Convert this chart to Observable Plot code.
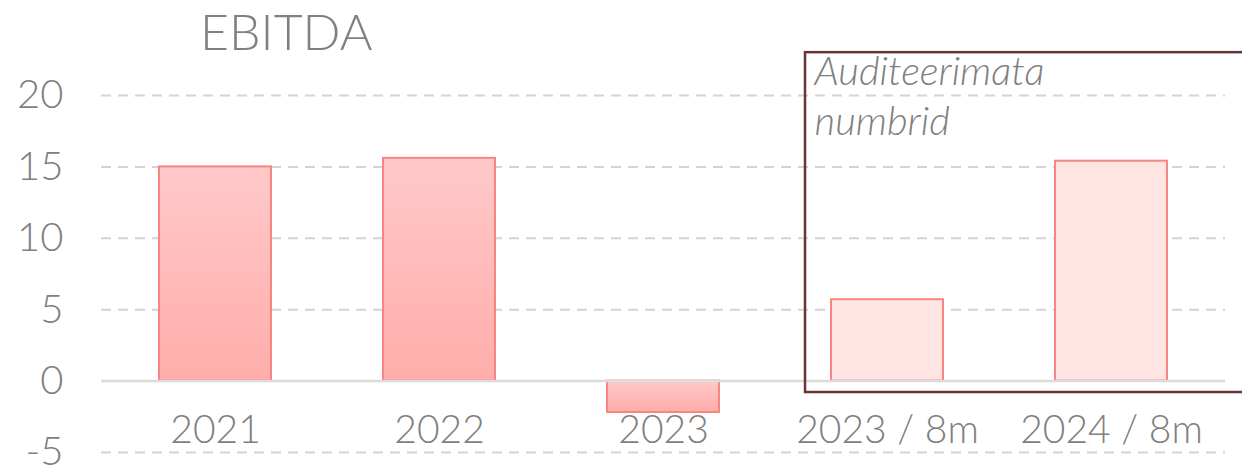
<!DOCTYPE html>
<html>
<head>
<meta charset="utf-8">
<script src="https://cdn.jsdelivr.net/npm/d3@7"></script>
<script src="https://cdn.jsdelivr.net/npm/@observablehq/plot@0.6"></script>
<style>
  html, body { margin: 0; padding: 0; background: #fff; }
  #wrap { width: 1242px; height: 469px; overflow: hidden; font-family: Lato, sans-serif; font-weight: 300; }
  #title { height: 60px; box-sizing: border-box; padding-left: 200px; padding-top: 5px; font-size: 50px; line-height: 52px; color: #808080; font-weight: 300; }
  svg { overflow: visible; }
</style>
</head>
<body>
<div id="wrap">
  <div id="title">EBITDA</div>
  <div id="chart"></div>
</div>
<script>
const categories = ["2021", "2022", "2023", "2023 / 8m", "2024 / 8m"];
const values = [15.0, 15.6, -2.2, 5.7, 15.4];
const audited = [true, true, true, false, false];
const yTicks = [-5, 0, 5, 10, 15, 20];
const gridTicks = [-5, 5, 10, 15, 20];
const noteText = "Auditeerimata\nnumbrid";
const boxFirstCategory = "2023 / 8m";
const boxTop = 23.0;
const boxBottom = -0.8;
const noteTop = 23.25;

const data = categories.map((c, i) => ({category: c, value: values[i], audited: audited[i]}));

function boxMark(index, scales, vals, dimensions) {
  const x = scales.x, y = scales.y;
  const step = x(categories[4]) - x(categories[3]);
  const x0 = x(boxFirstCategory) - step * 0.116;
  const g = d3.create("svg:g");
  g.append("rect")
    .attr("x", x0)
    .attr("y", y(boxTop))
    .attr("width", dimensions.width + 20 - x0)
    .attr("height", y(boxBottom) - y(boxTop))
    .attr("fill", "none")
    .attr("stroke", "#6b3333")
    .attr("stroke-width", 2.5);
  return g.node();
}

const chart = Plot.plot({
  width: 1242,
  height: 409,
  marginLeft: 101,
  marginRight: 17,
  marginTop: 35,
  marginBottom: 17,
  style: {fontFamily: "Lato, sans-serif", fontWeight: 300, color: "#808080", overflow: "visible"},
  x: {domain: categories, paddingInner: 0.5, paddingOuter: 0.25, label: null},
  y: {domain: [-5, 20], label: null},
  marks: [
    Plot.gridY(gridTicks, {stroke: "#d4d4d4", strokeOpacity: 1, strokeWidth: 2, strokeDasharray: "10,7"}),
    Plot.barY(data, {
      x: "category", y: "value",
      fill: d => d.audited ? "url(#barGrad)" : "#fee5e3",
      stroke: "#f6867f", strokeWidth: 2
    }),
    Plot.ruleY([0], {stroke: "#dcdcdc", strokeWidth: 2.5}),
    Plot.axisY(yTicks, {tickSize: 0, tickPadding: 38, fontSize: 40, fill: "#808080", tickFormat: d => String(d)}),
    Plot.axisX({tickSize: 0, tickPadding: 3, dy: -40, fontSize: 39, fill: "#808080"}),
    boxMark,
    Plot.text([{category: boxFirstCategory, value: noteTop, t: noteText}], {
      x: "category", y: "value", text: "t",
      textAnchor: "start", lineAnchor: "top", dx: -73, lineHeight: 1.25,
      fontSize: 40, fontStyle: "italic", fill: "#808080"
    })
  ]
});

const defs = d3.select(chart).insert("defs", ":first-child");
const grad = defs.append("linearGradient").attr("id", "barGrad")
  .attr("x1", 0).attr("y1", 0).attr("x2", 0).attr("y2", 1);
grad.append("stop").attr("offset", "0%").attr("stop-color", "#ffc9c9");
grad.append("stop").attr("offset", "100%").attr("stop-color", "#ffadaa");

document.getElementById("chart").appendChild(chart);
</script>
</body>
</html>
